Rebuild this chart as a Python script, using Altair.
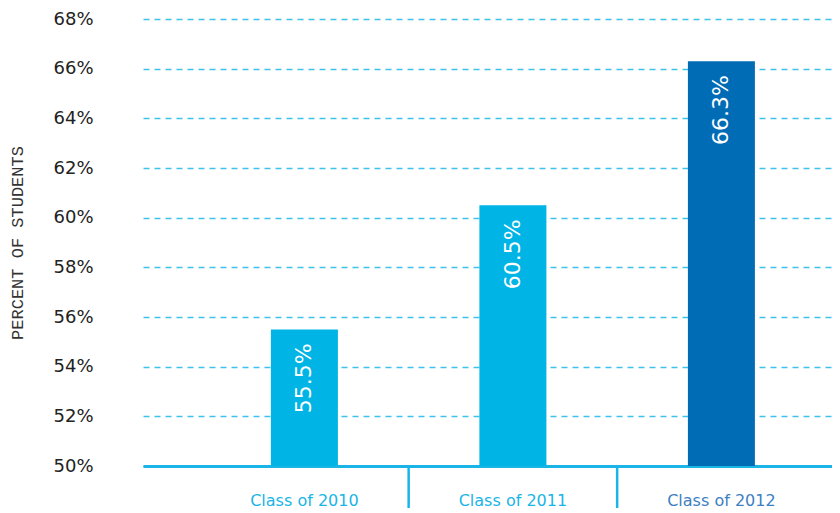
import altair as alt
import pandas as pd

classes = ["Class of 2010", "Class of 2011", "Class of 2012"]
values = [55.5, 60.5, 66.3]
bar_colors = ["#00b4e6", "#00b4e6", "#006cb6"]
divider_classes = ["Class of 2011", "Class of 2012"]
y_ticks = [50, 52, 54, 56, 58, 60, 62, 64, 66, 68]
baseline = 50

df = pd.DataFrame({"cls": classes, "value": values, "color": bar_colors})
div_df = pd.DataFrame({"cls": divider_classes})

W, H = 689, 447

x_scale = alt.Scale(domain=classes, paddingInner=0, paddingOuter=0.1523, align=0.9)
y_scale = alt.Scale(domain=[50, 68], nice=False, zero=False)

x_axis = alt.Axis(
    title=None, ticks=False, domain=True, domainColor="#19b5e6", domainWidth=3,
    labelFont="DejaVu Sans", labelFontSize=16, labelPadding=26, labelAngle=0,
    labelColor=alt.expr("datum.value == 'Class of 2012' ? '#3d7fc1' : '#1ab5e6'"),
)
y_axis = alt.Axis(
    values=y_ticks, title="PERCENT OF STUDENTS", titleFont="Liberation Mono",
    titleFontSize=17, titleFontWeight="normal", titleColor="#333333", titlePadding=26,
    labelFont="DejaVu Sans", labelFontSize=18, labelColor="#222222", labelPadding=50,
    labelExpr="datum.value + '%'", ticks=False, domain=False,
    grid=True, gridColor="#3ec1ea", gridDash=[6, 5], gridWidth=1.3,
)

bars = alt.Chart(df).mark_bar(size=67).encode(
    x=alt.X("cls:N", scale=x_scale, axis=x_axis, sort=classes),
    y=alt.Y("value:Q", scale=y_scale, axis=y_axis),
    y2=alt.datum(baseline),
    color=alt.Color("color:N", scale=None),
)

labels = alt.Chart(df).transform_calculate(
    lab="format(datum.value, '.1f') + '%'"
).mark_text(
    angle=270, align="right", baseline="middle", dx=-14, color="white",
    font="DejaVu Sans", fontSize=22,
).encode(
    x=alt.X("cls:N", scale=x_scale, sort=classes),
    y=alt.Y("value:Q", scale=y_scale),
    text="lab:N",
)

dividers = alt.Chart(div_df).mark_rule(color="#19b5e6", strokeWidth=2.5).encode(
    x=alt.X("cls:N", scale=x_scale, sort=classes, bandPosition=0),
    y=alt.value(H),
    y2=alt.value(H + 42),
)

chart = alt.layer(bars, dividers, labels).properties(
    width=W, height=H,
    padding={"left": 0, "top": 2, "right": 0, "bottom": 0},
).configure_view(stroke=None)

chart.save("out.html", embed_options={"renderer": "svg", "actions": False})
